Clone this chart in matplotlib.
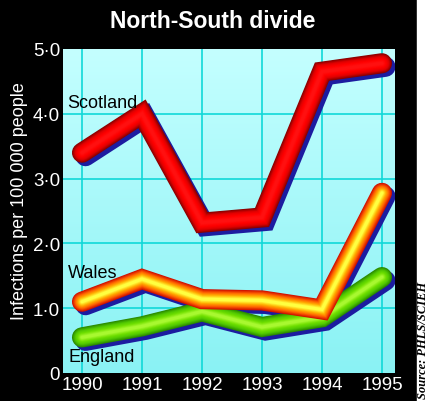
import matplotlib
matplotlib.use('Agg')
import matplotlib.pyplot as plt
import numpy as np
from matplotlib.colors import LinearSegmentedColormap
from matplotlib.transforms import offset_copy

# Данные
years = [1990, 1991, 1992, 1993, 1994, 1995]
scotland = [3.4, 4.0, 2.32, 2.4, 4.65, 4.78]
wales = [1.1, 1.45, 1.14, 1.12, 0.98, 2.78]
england = [0.55, 0.72, 0.95, 0.71, 0.86, 1.48]
yticks = [0, 1, 2, 3, 4, 5]
ytick_labels = ['0', '1\u00b70', '2\u00b70', '3\u00b70', '4\u00b70', '5\u00b70']

plt.rcParams['font.family'] = ['Liberation Sans', 'DejaVu Sans']

fig = plt.figure(figsize=(4.3, 4.02), dpi=100, facecolor='black')
ax = fig.add_axes([63/430, 28/402, 332/430, 324/402])

# Фон с градиентом
bg = LinearSegmentedColormap.from_list('bg', ['#8af2f4', '#c4ffff'])
ax.imshow(np.linspace(0, 1, 200).reshape(-1, 1), cmap=bg, aspect='auto',
          extent=[1989.683, 1995.217, 0, 5], origin='lower', zorder=0)

ax.set_xlim(1989.683, 1995.217)
ax.set_ylim(0, 5)
for yr in years:
    ax.axvline(yr, color='#10d8d8', lw=1.2, zorder=1)
for v in [1, 2, 3, 4]:
    ax.axhline(v, color='#10d8d8', lw=1.2, zorder=1)

# "Трубки"
def tube(y, colors, width=14.5):
    shadow = offset_copy(ax.transData, fig=fig, x=3.5, y=-3.5, units='dots')
    ax.plot(years, y, color='#1c1ca0', lw=width, solid_capstyle='round',
            solid_joinstyle='miter', transform=shadow, zorder=2)
    cmap = LinearSegmentedColormap.from_list('t', colors)
    n = 12
    for i in range(n):
        f = i / (n - 1)
        ax.plot(years, y, color=cmap(f), lw=width * (1 - 0.85 * f),
                solid_capstyle='round', solid_joinstyle='miter', zorder=3)

tube(england, ['#2a8a00', '#50c800', '#70e000', '#a8f830'])
tube(wales, ['#d01000', '#ff6000', '#ffb000', '#ffff40'])
tube(scotland, ['#8a0000', '#e00000', '#ff0000', '#ff1010'])

ax.text(1989.75, 4.18, 'Scotland', fontsize=13, color='black', va='center', zorder=4)
ax.text(1989.77, 1.55, 'Wales', fontsize=13, color='black', va='center', zorder=4)
ax.text(1989.77, 0.25, 'England', fontsize=13, color='black', va='center', zorder=4)

ax.set_xticks(years)
ax.set_xticklabels([str(y) for y in years])
ax.set_yticks(yticks)
ax.set_yticklabels(ytick_labels)
ax.tick_params(length=0, colors='white', labelsize=13.5, pad=2)
for s in ax.spines.values():
    s.set_visible(False)

fig.text(213/430, 1 - 22/402, 'North-South divide', color='white', fontsize=16.5,
         fontweight='bold', ha='center', va='center')
fig.text(20/430, 1 - 201/402, 'Infections per 100 000 people', color='white',
         fontsize=13, rotation=90, ha='center', va='center')

# Белая полоса справа и источник
fig.patches.append(plt.Rectangle((417/430, 0), 13/430, 1, transform=fig.transFigure,
                                 color='white', zorder=0))
fig.text(423/430, 1 - 340/402, 'Source: PHLS/SCIEH', color='black', fontsize=9,
         family='Liberation Serif', style='italic', fontweight='bold',
         rotation=90, ha='center', va='center')

fig.savefig('out.png', dpi=100, facecolor='black')
